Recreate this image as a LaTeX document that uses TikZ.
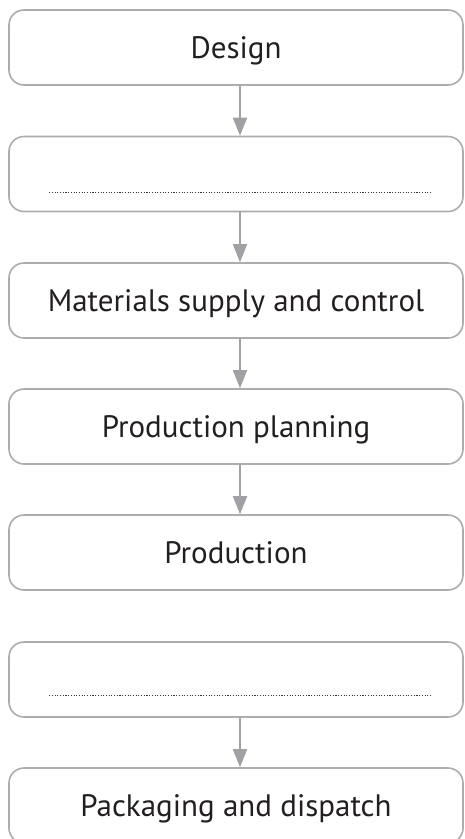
\documentclass[tikz,border=0pt]{standalone}
\usepackage{fontspec}
\setmainfont{PT Sans}
\usetikzlibrary{arrows.meta}
\definecolor{boxgray}{RGB}{172,172,175}
\definecolor{arrowgray}{RGB}{160,160,165}
\definecolor{inkblack}{RGB}{35,31,32}
\tikzset{
  stage/.style={draw=boxgray, line width=1.6pt, rounded corners=15pt,
    minimum width=454pt, minimum height=75pt, inner sep=0pt,
    text height=22pt, text depth=0pt, text=inkblack,
    font=\fontsize{31}{31}\selectfont},
  flow/.style={draw=arrowgray, line width=1.8pt,
    -{Triangle[length=18pt,width=14pt]}},
  blankline/.style={draw=inkblack!90, line width=1.1pt,
    dash pattern=on 1.1pt off 1.6pt}
}
\begin{document}
\begin{tikzpicture}
            \useasboundingbox (0pt,0pt) rectangle (464pt,-839pt);
            \node[stage] (design) at (236pt,-47.5pt) {Design};
            \node[stage] (gapA) at (236pt,-174pt) {};
            \node[stage] (materials) at (236pt,-300.5pt) {Materials supply and control};
            \node[stage] (planning) at (236pt,-426.5pt) {Production planning};
            \node[stage] (production) at (236pt,-552.5pt) {Production};
            \node[stage] (gapB) at (236pt,-679.5pt) {};
            \node[stage] (packaging) at (236pt,-805.5pt) {Packaging and dispatch};
            \draw[blankline] ([shift={(41pt,20pt)}]gapA.south west) -- ([shift={(-33pt,20pt)}]gapA.south east);
            \draw[blankline] ([shift={(41pt,22pt)}]gapB.south west) -- ([shift={(-33pt,22pt)}]gapB.south east);
            \draw[flow] ([xshift=4pt]design.south) -- ([xshift=4pt]gapA.north);
            \draw[flow] ([xshift=4pt]gapA.south) -- ([xshift=4pt]materials.north);
            \draw[flow] ([xshift=4pt]materials.south) -- ([xshift=4pt]planning.north);
            \draw[flow] ([xshift=4pt]planning.south) -- ([xshift=4pt]production.north);
            \draw[flow] ([xshift=4pt]gapB.south) -- ([xshift=4pt]packaging.north);
        \end{tikzpicture}
\end{document}
